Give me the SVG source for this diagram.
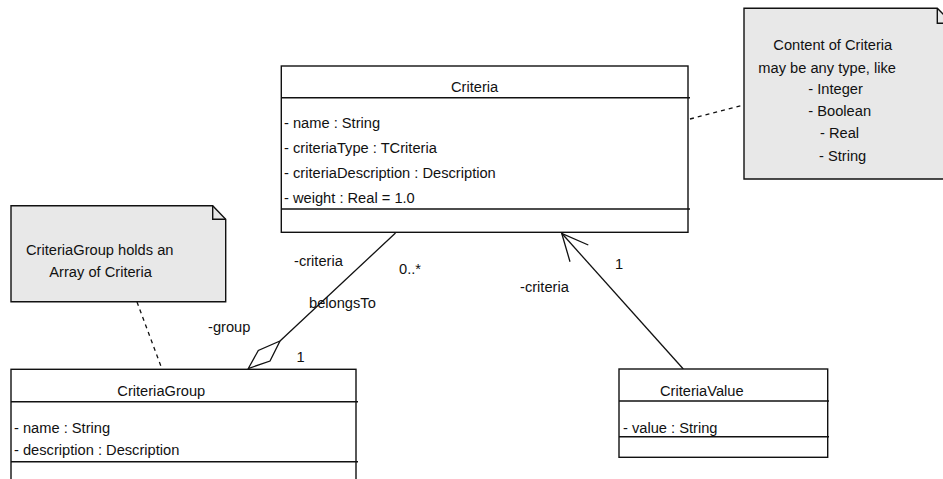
<svg xmlns="http://www.w3.org/2000/svg" width="943" height="479" viewBox="0 0 943 479">
  <style>
    text { font-family: "Liberation Sans", Arial, sans-serif; font-size: 14.67px; fill: #111; }
    .box { fill: #ffffff; stroke: #111; stroke-width: 1.4; }
    .sep { stroke: #111; stroke-width: 1.4; fill: none; }
    .note { fill: #e8e8e8; stroke: #111; stroke-width: 1.4; }
    .fold { fill: none; stroke: #111; stroke-width: 1.4; }
    .edge { fill: none; stroke: #111; stroke-width: 1.3; }
    .dash { fill: none; stroke: #111; stroke-width: 1.3; stroke-dasharray: 4 4; }
  </style>

  <rect width="943" height="479" fill="#ffffff"/>

  <!-- connectors -->
  <g id="connectors">
    <!-- note anchors -->
    <line class="dash" x1="690" y1="119" x2="744" y2="105"/>
    <line class="dash" x1="137" y1="302" x2="162" y2="369"/>
    <!-- aggregation: CriteriaGroup holds Criteria -->
    <line class="edge" x1="280" y1="341" x2="395.5" y2="233"/>
    <polygon class="edge" points="248.3,368.5 258.3,350.5 280,341 270,361" fill="#ffffff"/>
    <!-- navigable association: CriteriaValue to Criteria -->
    <line class="edge" x1="683.3" y1="369" x2="561.7" y2="233.3"/>
    <polyline class="edge" points="588.3,245 561.7,233.3 570,261.7"/>
    <!-- role and multiplicity labels -->
    <text x="294" y="266">-criteria</text>
    <text x="399" y="274">0..*</text>
    <text x="309" y="308">belongsTo</text>
    <text x="208" y="331.5">-group</text>
    <text x="296.5" y="361.5">1</text>
    <text x="520" y="292">-criteria</text>
    <text x="615" y="269">1</text>
  </g>

  <!-- class Criteria -->
  <g id="criteria">
    <rect class="box" x="281.3" y="66" width="406.7" height="166.3"/>
    <line class="sep" x1="281.3" y1="97.7" x2="690" y2="97.7"/>
    <line class="sep" x1="281.3" y1="209" x2="690" y2="209"/>
    <text x="451" y="92">Criteria</text>
    <text x="284" y="128">- name : String</text>
    <text x="284" y="153">- criteriaType : TCriteria</text>
    <text x="284" y="178">- criteriaDescription : Description</text>
    <text x="284" y="203">- weight : Real = 1.0</text>
  </g>

  <!-- class CriteriaGroup -->
  <g id="criteriaGroup">
    <rect class="box" x="11" y="369.3" width="345" height="120"/>
    <line class="sep" x1="11" y1="401.7" x2="358" y2="401.7"/>
    <line class="sep" x1="11" y1="461.7" x2="358" y2="461.7"/>
    <text x="117.3" y="396">CriteriaGroup</text>
    <text x="14" y="433">- name : String</text>
    <text x="14" y="455">- description : Description</text>
  </g>

  <!-- class CriteriaValue -->
  <g id="criteriaValue">
    <rect class="box" x="619" y="369" width="208.7" height="88.3"/>
    <line class="sep" x1="619" y1="401" x2="829" y2="401"/>
    <line class="sep" x1="619" y1="436.7" x2="829" y2="436.7"/>
    <text x="660" y="395.5">CriteriaValue</text>
    <text x="623" y="432.7">- value : String</text>
  </g>

  <!-- note on Criteria content -->
  <g id="noteContent">
    <path class="note" d="M744,8.3 H937.3 L952,23.3 V179 H744 Z"/>
    <path class="fold" d="M937.3,8.3 V23.3 H952"/>
    <text x="773.3" y="50">Content of Criteria</text>
    <text x="758.3" y="72.5">may be any type, like</text>
    <text x="808.3" y="94">- Integer</text>
    <text x="808.3" y="116">- Boolean</text>
    <text x="820" y="138.3">- Real</text>
    <text x="819" y="160.7">- String</text>
  </g>

  <!-- note on CriteriaGroup -->
  <g id="noteGroup">
    <path class="note" d="M11,205.7 H212.7 L225.7,219.3 V301.7 H11 Z"/>
    <path class="fold" d="M212.7,205.7 V219.3 H225.7"/>
    <text x="26" y="255">CriteriaGroup holds an</text>
    <text x="49.3" y="276.7">Array of Criteria</text>
  </g>
</svg>
